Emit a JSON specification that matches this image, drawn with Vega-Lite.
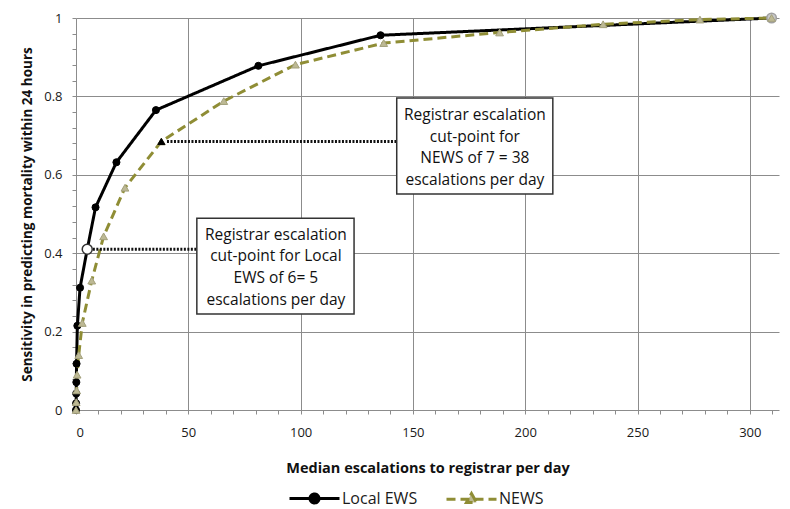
{
  "$schema": "https://vega.github.io/schema/vega-lite/v6.json",
  "width": 703,
  "height": 392,
  "autosize": "none",
  "padding": {"left": 76, "top": 18, "right": 11, "bottom": 99},
  "background": "white",
  "config": {"view": {"stroke": null}, "font": "Open Sans"},
  "datasets": {
    "curves": [
      {"series": "Local EWS", "x": 0, "y": 0},
      {"series": "Local EWS", "x": 0.05, "y": 0.017},
      {"series": "Local EWS", "x": 0.1, "y": 0.042},
      {"series": "Local EWS", "x": 0.15, "y": 0.071},
      {"series": "Local EWS", "x": 0.25, "y": 0.118},
      {"series": "Local EWS", "x": 0.6, "y": 0.215},
      {"series": "Local EWS", "x": 1.8, "y": 0.312},
      {"series": "Local EWS", "x": 5, "y": 0.41},
      {"series": "Local EWS", "x": 8.7, "y": 0.517},
      {"series": "Local EWS", "x": 18, "y": 0.632},
      {"series": "Local EWS", "x": 35.6, "y": 0.765},
      {"series": "Local EWS", "x": 81.2, "y": 0.878},
      {"series": "Local EWS", "x": 135.6, "y": 0.956},
      {"series": "Local EWS", "x": 309.7, "y": 1.0},
      {"series": "NEWS", "x": 0, "y": 0},
      {"series": "NEWS", "x": 0.1, "y": 0.02},
      {"series": "NEWS", "x": 0.3, "y": 0.05},
      {"series": "NEWS", "x": 0.5, "y": 0.09},
      {"series": "NEWS", "x": 1.2, "y": 0.14},
      {"series": "NEWS", "x": 2.8, "y": 0.222},
      {"series": "NEWS", "x": 7, "y": 0.33},
      {"series": "NEWS", "x": 12.3, "y": 0.443},
      {"series": "NEWS", "x": 21.8, "y": 0.567},
      {"series": "NEWS", "x": 38, "y": 0.685},
      {"series": "NEWS", "x": 65.8, "y": 0.788},
      {"series": "NEWS", "x": 97.7, "y": 0.881},
      {"series": "NEWS", "x": 137, "y": 0.936},
      {"series": "NEWS", "x": 188.6, "y": 0.963},
      {"series": "NEWS", "x": 234.7, "y": 0.984},
      {"series": "NEWS", "x": 277.8, "y": 0.996},
      {"series": "NEWS", "x": 309.7, "y": 1.0}
    ],
    "cuts": [
      {"kind": "local", "x": 5, "y": 0.41},
      {"kind": "news", "x": 38, "y": 0.685},
      {"kind": "end", "x": 309.7, "y": 1.0}
    ],
    "leaders": [
      {"x": 7.5, "x2": 53.8, "y": 0.41},
      {"x": 40.5, "x2": 142.8, "y": 0.685}
    ],
    "boxes": [
      {"x": 53.8, "x2": 123.8, "y": 0.489, "y2": 0.245, "cx": 89, "cy": 0.447, "lines": ["Registrar escalation", "cut-point for Local", "EWS of 6= 5", "escalations per day"]},
      {"x": 142.8, "x2": 212.3, "y": 0.796, "y2": 0.551, "cx": 177.6, "cy": 0.753, "lines": ["Registrar escalation", "cut-point for", "NEWS of 7 = 38", "escalations per day"]}
    ]
  },
  "layer": [
    {
      "data": {"name": "curves"},
      "mark": {"type": "line", "strokeWidth": 3},
      "encoding": {
        "x": {
          "field": "x", "type": "quantitative",
          "scale": {"domain": [0, 313], "nice": false, "zero": false},
          "axis": {
            "title": "Median escalations to registrar per day",
            "values": [0,10,20,30,40,50,60,70,80,90,100,110,120,130,140,150,160,170,180,190,200,210,220,230,240,250,260,270,280,290,300,310],
            "tickCount": 200,
            "labelExpr": "datum.value % 50 === 0 ? datum.label : ''",
            "labelOverlap": false,
            "grid": true,
            "gridColor": "#8c8c8c",
            "gridWidth": 1,
            "gridOpacity": {"condition": {"test": "datum.value % 50 === 0 && datum.value > 0", "value": 1}, "value": 0},
            "domainColor": "#8c8c8c",
            "domainWidth": 1,
            "tickColor": "#8c8c8c",
            "tickSize": 4,
            "labelPadding": 12,
            "labelFont": "Open Sans",
            "labelFontSize": 13,
            "labelColor": "#1a1a1a",
            "titleFont": "Open Sans",
            "titleFontSize": 14.5,
            "titleFontWeight": "bold",
            "titleColor": "#111111",
            "titlePadding": 22
          }
        },
        "y": {
          "field": "y", "type": "quantitative",
          "scale": {"domain": [0, 1], "nice": false},
          "axis": {
            "title": "Sensitivity in predicting mortality within 24 hours",
            "values": [0,0.04,0.08,0.12,0.16,0.2,0.24,0.28,0.32,0.36,0.4,0.44,0.48,0.52,0.56,0.6,0.64,0.68,0.72,0.76,0.8,0.84,0.88,0.92,0.96,1],
            "tickCount": 200,
            "labelExpr": "abs(datum.value*5 - round(datum.value*5)) < 0.001 ? format(datum.value, '~g') : ''",
            "labelOverlap": false,
            "grid": true,
            "gridColor": "#8c8c8c",
            "gridWidth": 1,
            "gridOpacity": {"condition": {"test": "abs(datum.value*5 - round(datum.value*5)) < 0.001 && datum.value > 0", "value": 1}, "value": 0},
            "domainColor": "#8c8c8c",
            "domainWidth": 1,
            "tickColor": "#8c8c8c",
            "tickSize": 4,
            "labelPadding": 10,
            "labelFont": "Open Sans",
            "labelFontSize": 13,
            "labelColor": "#1a1a1a",
            "titleFont": "Open Sans",
            "titleFontSize": 13.5,
            "titleFontWeight": "bold",
            "titleColor": "#111111",
            "titlePadding": 9
          }
        },
        "color": {
          "field": "series", "type": "nominal",
          "scale": {"domain": ["Local EWS", "NEWS"], "range": ["#000000", "#8f8d35"]},
          "legend": {
            "title": null,
            "orient": "none",
            "legendX": 212,
            "legendY": 454,
            "direction": "horizontal",
            "padding": 0,
            "columnPadding": 22,
            "labelOffset": 1,
            "symbolSize": 2500,
            "symbolStrokeWidth": 3,
            "labelFont": "Open Sans",
            "labelFontSize": 16,
            "labelColor": "#1a1a1a",
            "encode": {
              "symbols": {
                "update": {
                  "shape": [
                    {"test": "datum.value === 'NEWS'", "value": "M-1,0H1M0,-0.22L0.2,0.13L-0.2,0.13Z"},
                    {"value": "M-1,0H1M0.18,0A0.18,0.18,0,1,1,-0.18,0A0.18,0.18,0,1,1,0.18,0Z"}
                  ],
                  "fill": [
                    {"test": "datum.value === 'NEWS'", "value": "#bdb994"},
                    {"value": "#000000"}
                  ],
                  "stroke": [
                    {"test": "datum.value === 'NEWS'", "value": "#8f8d35"},
                    {"value": "#000000"}
                  ],
                  "strokeDash": [
                    {"test": "datum.value === 'NEWS'", "value": [8, 5]},
                    {"value": [1, 0]}
                  ],
                  "fillOpacity": {"value": 1},
                  "strokeWidth": {"value": 3}
                }
              }
            }
          }
        },
        "strokeDash": {
          "field": "series", "type": "nominal",
          "scale": {"domain": ["Local EWS", "NEWS"], "range": [[1, 0], [9, 5]]},
          "legend": null
        }
      }
    },
    {
      "data": {"name": "curves"},
      "transform": [{"filter": "datum.series === 'Local EWS'"}],
      "mark": {"type": "point", "shape": "circle", "filled": true, "fill": "#000000", "stroke": "#000000", "strokeWidth": 1, "size": 50, "opacity": 1},
      "encoding": {
        "x": {"field": "x", "type": "quantitative"},
        "y": {"field": "y", "type": "quantitative"}
      }
    },
    {
      "data": {"name": "cuts"},
      "transform": [{"filter": "datum.kind === 'end'"}],
      "mark": {"type": "point", "shape": "circle", "filled": true, "fill": "#c8c8c8", "stroke": "#a0a0a0", "strokeWidth": 1.5, "size": 90, "opacity": 1},
      "encoding": {
        "x": {"field": "x", "type": "quantitative"},
        "y": {"field": "y", "type": "quantitative"}
      }
    },
    {
      "data": {"name": "curves"},
      "transform": [{"filter": "datum.series === 'NEWS'"}],
      "mark": {"type": "point", "shape": "triangle-up", "filled": true, "fill": "#bdb994", "stroke": "#a3a07c", "strokeWidth": 1, "size": 60, "opacity": 1},
      "encoding": {
        "x": {"field": "x", "type": "quantitative"},
        "y": {"field": "y", "type": "quantitative"}
      }
    },
    {
      "data": {"name": "leaders"},
      "mark": {"type": "rule", "color": "#111111", "strokeWidth": 3, "strokeDash": [2, 1.5]},
      "encoding": {
        "x": {"field": "x", "type": "quantitative"},
        "x2": {"field": "x2"},
        "y": {"field": "y", "type": "quantitative"}
      }
    },
    {
      "data": {"name": "cuts"},
      "transform": [{"filter": "datum.kind === 'local'"}],
      "mark": {"type": "point", "shape": "circle", "filled": true, "fill": "#ffffff", "stroke": "#333333", "strokeWidth": 1.5, "size": 100, "opacity": 1},
      "encoding": {
        "x": {"field": "x", "type": "quantitative"},
        "y": {"field": "y", "type": "quantitative"}
      }
    },
    {
      "data": {"name": "cuts"},
      "transform": [{"filter": "datum.kind === 'news'"}],
      "mark": {"type": "point", "shape": "triangle-up", "filled": true, "fill": "#000000", "stroke": "#000000", "strokeWidth": 1, "size": 50, "opacity": 1},
      "encoding": {
        "x": {"field": "x", "type": "quantitative"},
        "y": {"field": "y", "type": "quantitative"}
      }
    },
    {
      "data": {"name": "boxes"},
      "mark": {"type": "rect", "fill": "#ffffff", "stroke": "#333333", "strokeWidth": 1.5},
      "encoding": {
        "x": {"field": "x", "type": "quantitative"},
        "x2": {"field": "x2"},
        "y": {"field": "y", "type": "quantitative"},
        "y2": {"field": "y2"}
      }
    },
    {
      "data": {"name": "boxes"},
      "mark": {"type": "text", "font": "Open Sans", "fontSize": 15.5, "lineHeight": 21.7, "align": "center", "baseline": "middle", "color": "#111111"},
      "encoding": {
        "x": {"field": "cx", "type": "quantitative"},
        "y": {"field": "cy", "type": "quantitative"},
        "text": {"field": "lines"}
      }
    }
  ]
}
